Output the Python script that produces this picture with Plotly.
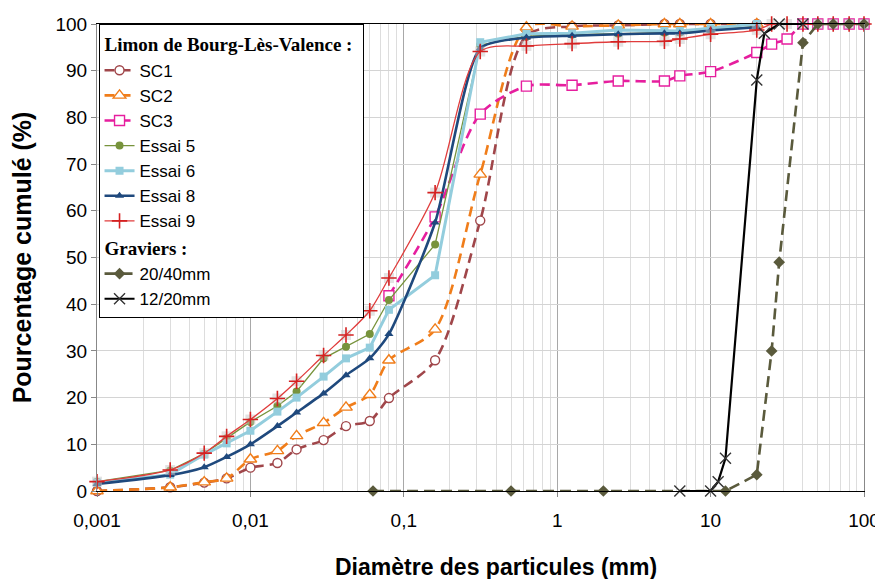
import plotly.graph_objects as go

# Diamètres (mm) communs aux essais sur le limon
diam_limon = [0.001, 0.003, 0.005, 0.007, 0.01, 0.015, 0.02, 0.03, 0.042, 0.06,
              0.08, 0.16, 0.315, 0.63, 1.25, 2.5, 5, 6.3, 10, 20]

sc1 = [0, 0.8, 1.8, 2.7, 5.0, 6.0, 8.9, 10.9, 13.9, 15.0,
       19.9, 28.0, 57.9, 97.5, 99.5, 99.7, 100, 100, 100, 100]
sc2 = [0, 0.8, 1.9, 2.7, 6.8, 8.6, 11.8, 14.6, 17.9, 20.6,
       28.0, 34.6, 67.8, 99.3, 99.5, 99.7, 100, 100, 100, 100]
essai5 = [2.0, 4.4, 8.0, 11.3, 14.8, 18.2, 21.3, 28.4, 30.9, 33.6,
          40.9, 52.8, 95.5, 97.4, 97.7, 97.9, 98.1, 98.2, 98.7, 99.5]
essai6 = [1.8, 3.5, 7.8, 10.2, 12.9, 17.0, 20.0, 24.5, 28.4, 30.7,
          38.8, 46.2, 96.1, 97.9, 98.0, 98.7, 98.5, 98.5, 99.1, 100]
essai8 = [1.5, 3.4, 5.1, 7.3, 10.0, 13.9, 16.8, 20.9, 24.8, 28.4,
          33.6, 57.5, 94.8, 97.1, 97.5, 97.8, 98.0, 98.0, 98.6, 99.3]

diam_sc3 = [0.08, 0.16, 0.315, 0.63, 1.25, 2.5, 5, 6.3, 10, 20, 25, 31.5, 40, 50, 63, 80, 100]
sc3 = [41.8, 58.7, 80.7, 86.7, 86.9, 87.8, 87.8, 88.9, 89.8, 93.9, 95.7, 96.8, 100, 100, 100, 100, 100]

diam_essai9 = diam_limon + [25, 31.5, 40, 50, 63, 80, 100]
essai9 = [2.0, 4.5, 8.1, 11.7, 15.3, 19.8, 23.5, 29.0, 33.4, 38.6,
          45.6, 63.9, 94.1, 95.3, 95.8, 96.2, 96.3, 96.8, 97.8, 98.7,
          100, 100, 100, 100, 100, 100, 100]

# Graviers
diam_g2040 = [0.063, 0.5, 2, 12.5, 20, 25, 28, 40, 50, 63, 80, 100]
g2040 = [0, 0, 0, 0, 3.5, 30, 49, 96, 100, 100, 100, 100]
diam_g1220 = [6.3, 10, 11.2, 12.5, 20, 22.4, 28, 40]
g1220 = [0, 0, 2, 7, 88, 98, 100, 100]

x_ticks = [0.001, 0.01, 0.1, 1, 10, 100]
x_ticktext = ['0,001', '0,01', '0,1', '1', '10', '100']
y_ticks = [0, 10, 20, 30, 40, 50, 60, 70, 80, 90, 100]


def open_marker(symbol, color, size):
    return dict(symbol=symbol, size=size, color='white', line=dict(color=color, width=1.4))


def build_figure():
    """
    Courbes granulométriques du limon de Bourg-Lès-Valence et des graviers.
    """
    fig = go.Figure()
    grp1 = dict(legendgroup='limon', legendgrouptitle=dict(text='<b>Limon de Bourg-Lès-Valence :</b>'))
    grp2 = dict(legendgroup='graviers', legendgrouptitle=dict(text='<b>Graviers :</b>'))

    fig.add_trace(go.Scatter(x=diam_limon, y=sc1, name='SC1', mode='lines+markers', **grp1,
                             line=dict(color='#A0464A', width=2.6, dash='10px,6px', shape='spline', smoothing=0.8),
                             marker=open_marker('circle', '#A0464A', 9)))
    fig.add_trace(go.Scatter(x=diam_limon, y=sc2, name='SC2', mode='lines+markers', **grp1,
                             line=dict(color='#F07D1A', width=2.6, dash='10px,6px', shape='spline', smoothing=0.8),
                             marker=open_marker('triangle-up', '#F07D1A', 11)))
    fig.add_trace(go.Scatter(x=diam_sc3, y=sc3, name='SC3', mode='lines+markers', **grp1,
                             line=dict(color='#E61E9E', width=2.6, dash='10px,6px', shape='spline', smoothing=0.8),
                             marker=open_marker('square', '#E61E9E', 10)))
    fig.add_trace(go.Scatter(x=diam_limon, y=essai5, name='Essai 5', mode='lines+markers', **grp1,
                             line=dict(color='#77933C', width=1.3),
                             marker=dict(symbol='circle', size=8, color='#77933C')))
    fig.add_trace(go.Scatter(x=diam_limon, y=essai6, name='Essai 6', mode='lines+markers', **grp1,
                             line=dict(color='#93CDDD', width=3),
                             marker=dict(symbol='square', size=8, color='#93CDDD')))
    fig.add_trace(go.Scatter(x=diam_limon, y=essai8, name='Essai 8', mode='lines+markers', **grp1,
                             line=dict(color='#1F497D', width=2.6, shape='spline', smoothing=0.6),
                             marker=dict(symbol='triangle-up', size=8, color='#1F497D')))
    # ombre grise sous les croix (effet Excel)
    fig.add_trace(go.Scatter(x=diam_essai9, y=essai9, mode='markers', showlegend=False, hoverinfo='skip',
                             marker=dict(symbol='square', size=10, color='rgba(200,200,200,0.5)')))
    fig.add_trace(go.Scatter(x=diam_essai9, y=essai9, name='Essai 9', mode='lines+markers', **grp1,
                             line=dict(color='#E03C3C', width=1.3, shape='spline', smoothing=0.8),
                             marker=dict(symbol='cross-thin', size=11, line=dict(color='#D42020', width=1.6))))

    fig.add_trace(go.Scatter(x=diam_g2040, y=g2040, name='20/40mm', mode='lines+markers', **grp2,
                             line=dict(color='#5A5A3C', width=2.6, dash='11px,6px'),
                             marker=dict(symbol='diamond', size=9, color='#5A5A3C')))
    fig.add_trace(go.Scatter(x=diam_g1220, y=g1220, name='12/20mm', mode='lines+markers', **grp2,
                             line=dict(color='black', width=2.2),
                             marker=dict(symbol='x-thin', size=11, line=dict(color='#333333', width=1.4))))

    fig.update_traces(cliponaxis=False)

    # la page ajoute 8 px de marge autour du graphique
    fig.update_layout(
        width=875, height=571,
        margin=dict(l=89, r=19, t=16, b=88),
        paper_bgcolor='white', plot_bgcolor='white',
        font=dict(family='Liberation Sans, Arial', size=17, color='black'),
        showlegend=True,
        legend=dict(x=0.002, y=1, xanchor='left', yanchor='top',
                    bgcolor='white', bordercolor='black', borderwidth=1,
                    traceorder='grouped', tracegroupgap=0,
                    font=dict(size=17),
                    grouptitlefont=dict(family='Liberation Serif, Times New Roman', size=19, color='black')),
    )
    # titre de l'axe x légèrement décalé à droite comme dans l'original
    fig.add_annotation(text='<b>Diamètre des particules (mm)</b>', xref='paper', yref='paper',
                       x=0.52, y=-0.163, xanchor='center', yanchor='middle', showarrow=False,
                       font=dict(size=23))
    fig.update_xaxes(type='log', range=[-3, 2], automargin=False,
                     tickvals=x_ticks, ticktext=x_ticktext, tickfont=dict(size=19), ticklabelstandoff=7,
                     showgrid=True, gridcolor='#A8A8A8', gridwidth=1,
                     minor=dict(dtick='D1', showgrid=True, gridcolor='#DDDDDD', gridwidth=1),
                     showline=True, linecolor='black', linewidth=1.2, mirror=True,
                     ticks='outside', ticklen=5, tickcolor='#888888')
    fig.update_yaxes(range=[0, 100], tickvals=y_ticks, tickfont=dict(size=19), automargin=False,
                     showgrid=True, gridcolor='#D4D4D4', gridwidth=1,
                     showline=True, linecolor='#888888', linewidth=1, mirror=True,
                     ticks='outside', ticklen=5, tickcolor='#888888', zeroline=False,
                     title=dict(text='<b>Pourcentage cumulé (%)</b>', font=dict(size=25), standoff=22))
    return fig


if __name__ == "__main__":
    fig = build_figure()
    fig.write_html("out.html")
